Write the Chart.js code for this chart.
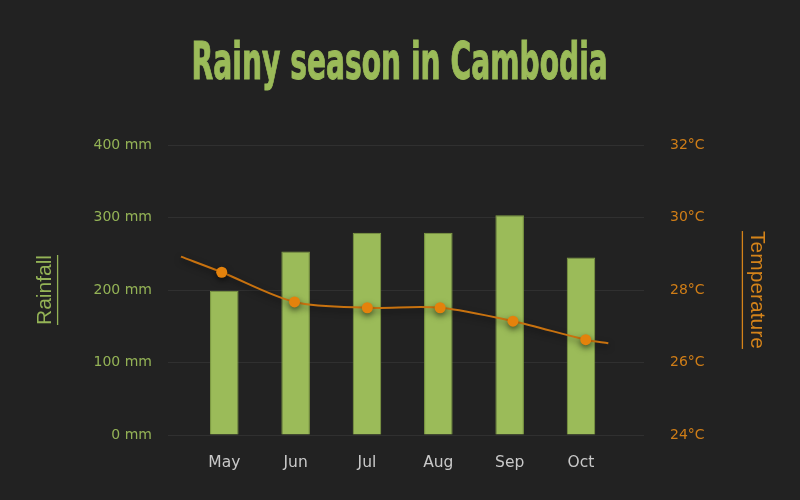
<!DOCTYPE html>
<html>
<head>
<meta charset="UTF-8"/>
<title>Rainy season in Cambodia</title>
<script src="https://cdn.jsdelivr.net/npm/chart.js@4.4.0/dist/chart.umd.min.js"></script>
<style>
  html, body { margin: 0; padding: 0; background: #222222; }
  #wrap { position: relative; width: 800px; height: 500px; }
  #title {
    position: absolute; left: 0; top: 35px; width: 800px;
    text-align: center; white-space: nowrap;
  }
  #title span {
    display: inline-block;
    font-family: "DejaVu Sans Condensed", "DejaVu Sans", sans-serif;
    font-stretch: condensed;
    font-weight: bold; font-size: 52px; line-height: 52px;
    color: #9bbb59;
    -webkit-text-stroke: 1px #9bbb59;
    transform-origin: 50% 50%;
  }
  canvas { position: absolute; left: 0; top: 0; }
</style>
</head>
<body>
<div id="wrap">
  <canvas id="chart" width="800" height="500"></canvas>
  <div id="title"><span>Rainy season in Cambodia</span></div>
</div>
<script>
 // values
 var months = ["May", "Jun", "Jul", "Aug", "Sep", "Oct"];
 var rainfall = [199, 253, 279, 279, 303, 245];           // mm
 var temperature = [28.49, 27.67, 27.51, 27.51, 27.14, 26.63]; // °C
 // the line runs a little past the first and last month
 var lineStart = [-0.56, 28.92];
 var lineEnd = [5.31, 26.53];

 var green = "#9bbb59";
 var orange = "#e4820c";

 // squeeze the heading so it looks like the condensed original
 var t = document.querySelector("#title span");
 t.style.transform = "scaleX(" + (416 / t.offsetWidth) + ")";

 var barPoints = rainfall.map((v, i) => ({x: i, y: v}));
 var linePoints = [{x: lineStart[0], y: lineStart[1]}]
     .concat(temperature.map((v, i) => ({x: i, y: v})))
     .concat([{x: lineEnd[0], y: lineEnd[1]}]);
 var radii = linePoints.map((p, i) => (i == 0 || i == linePoints.length - 1) ? 0 : 5.5);

 // dark shadow under the temperature line
 var lineShadow = {
     id: "lineShadow",
     beforeDatasetDraw(chart, args) {
         if (args.index !== 0) return;
         var ctx = chart.ctx;
         ctx.save();
         ctx.shadowColor = "rgba(0,0,0,0.5)";
         ctx.shadowBlur = 6;
         ctx.shadowOffsetY = 3;
     },
     afterDatasetDraw(chart, args) {
         if (args.index !== 0) return;
         chart.ctx.restore();
     }
 };

 // underline the two axis titles
 var underline = {
     id: "underline",
     afterDraw(chart) {
         var ctx = chart.ctx;
         [["y", 12, -1], ["y1", 14, 1]].forEach(function(s) {
             var sc = chart.scales[s[0]];
             var o = sc.options.title;
             ctx.save();
             ctx.font = o.font.size + "px " + o.font.family;
             var w = ctx.measureText(o.text).width;
             var half = o.font.size * 1.2 / 2 + 4;
             var cx = s[2] < 0 ? sc.left + half + s[1] : sc.right - half - s[1];
             var cy = (sc.top + sc.bottom) / 2;
             ctx.strokeStyle = o.color;
             ctx.lineWidth = 1.3;
             ctx.beginPath();
             ctx.moveTo(cx, cy - w / 2);
             ctx.lineTo(cx, cy + w / 2);
             ctx.stroke();
             ctx.restore();
         });
     }
 };

 new Chart("chart", {
     type: "bar",
     data: {
         datasets: [{
             type: "line",
             label: "Temperature",
             data: linePoints,
             xAxisID: "x2",
             yAxisID: "y1",
             borderColor: "#c8720f",
             borderWidth: 2,
             tension: 0.3,
             pointRadius: radii,
             pointBackgroundColor: orange,
             pointBorderWidth: 0,
             fill: false
         }, {
             label: "Rainfall",
             data: barPoints,
             xAxisID: "x",
             yAxisID: "y",
             grouped: false,
             backgroundColor: green,
             borderColor: "#809e44",
             borderWidth: 1,
             barPercentage: 0.5,
             categoryPercentage: 0.8
         }]
     },
     options: {
         responsive: false,
         animation: false,
         layout: { padding: { top: 145, left: 29, right: 27, bottom: 29 } },
         plugins: { legend: { display: false }, tooltip: { enabled: false } },
         scales: {
             x: {
                 type: "linear",
                 offset: false,
                 min: -0.789, max: 5.883,
                 afterFit: s => { s.height = 500 - 29 - 435; },
                 grid: { display: false, drawTicks: false },
                 border: { display: false },
                 afterBuildTicks: s => { s.ticks = months.map((m, i) => ({value: i})); },
                 ticks: {
                     autoSkip: false,
                     maxRotation: 0,
                     padding: 19,
                     color: "#c9c9c9",
                     font: { family: "DejaVu Sans", size: 15.5 },
                     callback: v => months[v]
                 }
             },
             x2: {
                 type: "linear",
                 display: false,
                 offset: false,
                 min: -0.738, max: 5.80
             },
             y: {
                 position: "left",
                 min: 0, max: 400,
                 afterFit: s => { s.width = 168 - 29; },
                 grid: { color: "#303030", drawTicks: false },
                 border: { display: false },
                 ticks: {
                     stepSize: 100,
                     padding: 16,
                     color: "#94b356",
                     font: { family: "DejaVu Sans", size: 14 },
                     callback: v => v + " mm"
                 },
                 title: {
                     display: true,
                     text: "Rainfall",
                     color: "#94b356",
                     font: { family: "Liberation Sans", size: 21 }
                 }
             },
             y1: {
                 position: "right",
                 min: 24, max: 32,
                 afterFit: s => { s.width = 800 - 27 - 644; },
                 grid: { display: false, drawTicks: false },
                 border: { display: false },
                 ticks: {
                     stepSize: 2,
                     padding: 26,
                     color: "#cf7d17",
                     font: { family: "DejaVu Sans", size: 14 },
                     callback: v => v + "°C"
                 },
                 title: {
                     display: true,
                     text: "Temperature",
                     color: "#d4831a",
                     font: { family: "Liberation Sans", size: 21 }
                 }
             }
         }
     },
     plugins: [lineShadow, underline]
 });
</script>
</body>
</html>
